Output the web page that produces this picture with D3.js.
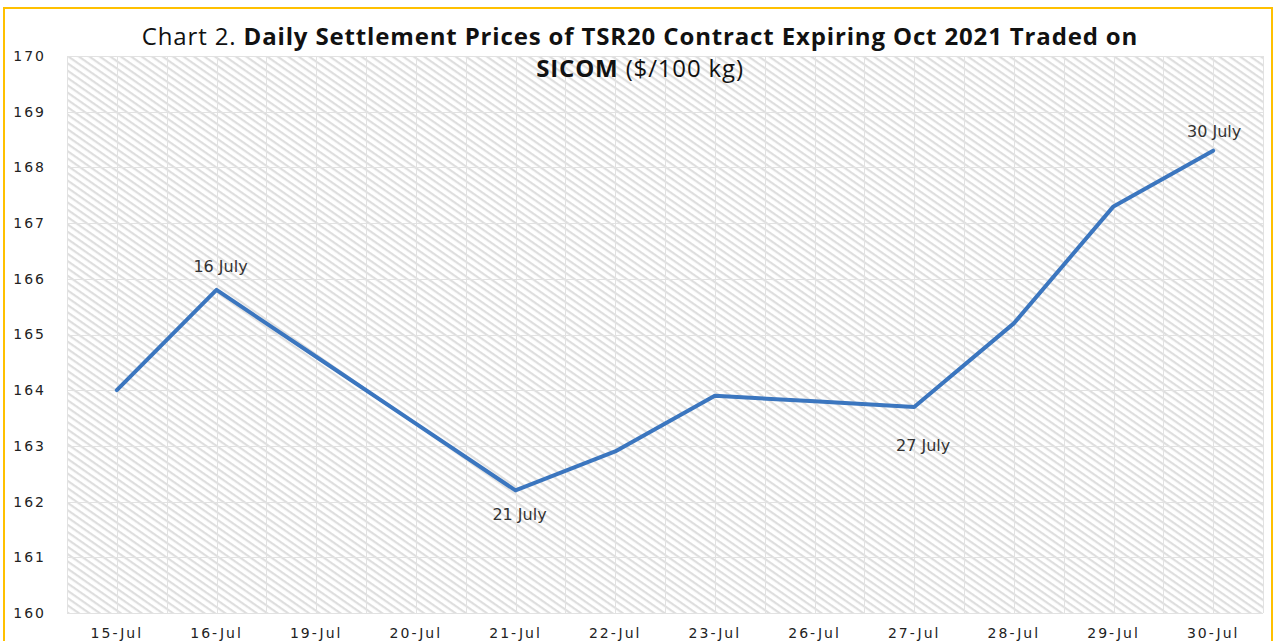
<!DOCTYPE html>
<html>
<head>
<meta charset="utf-8">
<script src="https://cdn.jsdelivr.net/npm/d3@7"></script>
<style>
  html, body { margin: 0; padding: 0; background: #fff; }
  #chart { width: 1277px; height: 641px; overflow: hidden; }
</style>
</head>
<body>
<div id="chart"></div>
<script>
// ---- Data ----
const days   = ['15-Jul', '16-Jul', '19-Jul', '20-Jul', '21-Jul', '22-Jul',
                '23-Jul', '26-Jul', '27-Jul', '28-Jul', '29-Jul', '30-Jul'];
const prices = [164.0, 165.8, 164.6, 163.4, 162.2, 162.9,
                163.9, 163.8, 163.7, 165.2, 167.3, 168.3];
const yTicks = [160, 161, 162, 163, 164, 165, 166, 167, 168, 169, 170];
const notes  = [
  { day: '16-Jul', text: '16 July' },
  { day: '21-Jul', text: '21 July' },
  { day: '27-Jul', text: '27 July' },
  { day: '30-Jul', text: '30 July' }
];

// ---- Layout ----
const W = 1277, H = 641;
const plot = { left: 67, right: 1263, top: 56, bottom: 613 };
// label offsets from the point (dx, dy)
const noteOffset = { '16-Jul': [4, -18], '21-Jul': [4, 30], '27-Jul': [9, 44], '30-Jul': [1, -14] };

const svg = d3.select('#chart').append('svg')
  .attr('width', W).attr('height', H);

// hatch pattern (wide downward diagonal)
const defs = svg.append('defs');
const pat = defs.append('pattern')
  .attr('id', 'hatch').attr('patternUnits', 'userSpaceOnUse')
  .attr('width', 6).attr('height', 6)
  .attr('patternTransform', 'rotate(35)');
pat.append('rect').attr('width', 6).attr('height', 6).attr('fill', '#fff');
pat.append('rect').attr('width', 6).attr('height', 2.2).attr('fill', '#dedede');

// frame
svg.append('rect')
  .attr('x', 4).attr('y', 8).attr('width', 1268).attr('height', 640)
  .attr('fill', '#fff').attr('stroke', '#ffc000').attr('stroke-width', 2);

const x = d3.scaleBand().domain(days).range([plot.left, plot.right]);
const y = d3.scaleLinear().domain([160, 170]).range([plot.bottom, plot.top]);

// plot background
svg.append('rect')
  .attr('x', plot.left).attr('y', plot.top)
  .attr('width', plot.right - plot.left).attr('height', plot.bottom - plot.top)
  .attr('fill', 'url(#hatch)');

// grid
const grid = svg.append('g').attr('stroke', '#e2e2e2').attr('stroke-width', 1);
yTicks.forEach(t => {
  grid.append('line')
    .attr('x1', plot.left).attr('x2', plot.right)
    .attr('y1', Math.round(y(t)) + 0.5).attr('y2', Math.round(y(t)) + 0.5);
});
const vx = [];
days.forEach(d => { vx.push(x(d)); vx.push(x(d) + x.bandwidth() / 2); });
vx.push(plot.right);
vx.forEach(v => {
  grid.append('line')
    .attr('x1', Math.round(v) + 0.5).attr('x2', Math.round(v) + 0.5)
    .attr('y1', plot.top).attr('y2', plot.bottom);
});

// y axis labels
const yAxis = svg.append('g')
  .attr('transform', 'translate(' + (plot.left - 21) + ',0)')
  .call(d3.axisLeft(y).tickValues(yTicks).tickSize(0).tickPadding(0).tickFormat(d3.format('d')));
yAxis.select('.domain').remove();
yAxis.selectAll('text')
  .style('font-family', 'DejaVu Sans, Verdana, sans-serif')
  .style('font-size', '14px').style('letter-spacing', '2px')
  .attr('fill', '#222');

// x axis labels (the reference crops them at the bottom edge)
const xAxis = svg.append('g')
  .attr('transform', 'translate(0,' + (plot.bottom + 15) + ')')
  .call(d3.axisBottom(x).tickSize(0).tickPadding(0));
xAxis.select('.domain').remove();
xAxis.selectAll('text')
  .style('font-family', 'DejaVu Sans, Verdana, sans-serif')
  .style('font-size', '14px').style('letter-spacing', '2px')
  .attr('fill', '#222');

// line
const cx = d => x(d) + x.bandwidth() / 2;
const pts = days.map((d, i) => ({ day: d, v: prices[i] }));
svg.append('path')
  .datum(pts)
  .attr('fill', 'none')
  .attr('stroke', '#3b76bf')
  .attr('stroke-width', 4)
  .attr('stroke-linejoin', 'round')
  .attr('stroke-linecap', 'round')
  .attr('d', d3.line().x(p => cx(p.day)).y(p => y(p.v)));

// annotations
notes.forEach(n => {
  const v = prices[days.indexOf(n.day)];
  const off = noteOffset[n.day];
  svg.append('text')
    .attr('x', cx(n.day) + off[0])
    .attr('y', y(v) + off[1])
    .attr('text-anchor', 'middle')
    .style('font-family', 'DejaVu Sans, Verdana, sans-serif')
    .style('font-size', '16px')
    .attr('fill', '#333')
    .text(n.text);
});

// title
const title = svg.append('text')
  .attr('x', 640).attr('y', 45)
  .attr('text-anchor', 'middle')
  .style('font-family', 'Open Sans, Liberation Sans, sans-serif')
  .style('font-size', '24px').style('letter-spacing', '0.85px').attr('fill', '#111');
title.append('tspan').text('Chart 2. ');
title.append('tspan').style('font-weight', '700')
  .text('Daily Settlement Prices of TSR20 Contract Expiring Oct 2021 Traded on');
const title2 = svg.append('text')
  .attr('x', 640).attr('y', 77)
  .attr('text-anchor', 'middle')
  .style('font-family', 'Open Sans, Liberation Sans, sans-serif')
  .style('font-size', '24px').style('letter-spacing', '0.85px').attr('fill', '#111');
title2.append('tspan').style('font-weight', '700').text('SICOM');
title2.append('tspan').text(' ($/100 kg)');
</script>
</body>
</html>
